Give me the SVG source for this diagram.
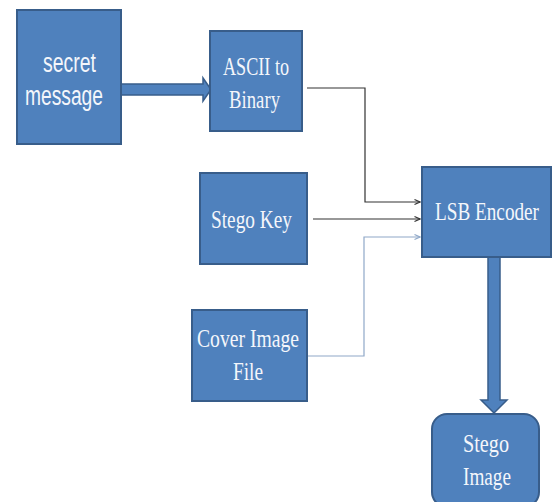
<svg xmlns="http://www.w3.org/2000/svg" width="553" height="502" viewBox="0 0 553 502">
<defs>
<style>
.box{fill:#4F81BD;stroke:#385D8A;stroke-width:2}
.t{fill:#F4F6FB;font-family:"Liberation Serif","Times New Roman",serif;font-size:25px;text-anchor:middle}
.s{fill:#F4F6FB;font-family:"Liberation Sans",Arial,sans-serif;font-size:27px;text-anchor:middle}
.ln{fill:none;stroke:#333333;stroke-width:1.2}
.lb{fill:none;stroke:#8FA8C8;stroke-width:1.2}
.blk{fill:#4F81BD;stroke:#385D8A;stroke-width:1.5}
</style>
<marker id="ah" markerWidth="8" markerHeight="8" refX="7" refY="4" orient="auto" markerUnits="userSpaceOnUse">
<path d="M1.5,1.5 L7,4 L1.5,6.5" fill="none" stroke="#333333" stroke-width="1.2"/>
</marker>
<marker id="ahb" markerWidth="8" markerHeight="8" refX="7" refY="4" orient="auto" markerUnits="userSpaceOnUse">
<path d="M1.5,1.5 L7,4 L1.5,6.5" fill="none" stroke="#8FA8C8" stroke-width="1.2"/>
</marker>
</defs>
<rect width="553" height="502" fill="#FFFFFF"/>
<g id="connectors">
<polygon class="blk" points="121,84 203,84 203,78 211,89.5 203,101 203,95 121,95"/>
<polyline class="ln" points="307,88 365,88 365,202 420,202" marker-end="url(#ah)"/>
<line class="ln" x1="313" y1="219" x2="420" y2="219" marker-end="url(#ah)"/>
<polyline class="lb" points="307,356 364,356 364,237 420,237" marker-end="url(#ahb)"/>
<polygon class="blk" points="488,257 500,257 500,400 507,400 494,413 481,400 488,400"/>
</g>
<g id="secret-message">
<rect class="box" x="17" y="10" width="104" height="134"/>
<text class="s" x="69.5" y="72" textLength="53" lengthAdjust="spacingAndGlyphs">secret</text>
<text class="s" x="64" y="105" textLength="78" lengthAdjust="spacingAndGlyphs">message</text>
</g>
<g id="ascii-to-binary">
<rect class="box" x="210" y="31" width="92" height="100"/>
<text class="t" x="256" y="75" textLength="66" lengthAdjust="spacingAndGlyphs">ASCII to</text>
<text class="t" x="254.5" y="108" textLength="51" lengthAdjust="spacingAndGlyphs">Binary</text>
</g>
<g id="stego-key">
<rect class="box" x="200" y="173" width="107" height="91"/>
<text class="t" x="251.5" y="228" textLength="81" lengthAdjust="spacingAndGlyphs">Stego Key</text>
</g>
<g id="lsb-encoder">
<rect class="box" x="422" y="167" width="129" height="90"/>
<text class="t" x="487" y="220" font-size="21" textLength="104" lengthAdjust="spacingAndGlyphs">LSB Encoder</text>
</g>
<g id="cover-image-file">
<rect class="box" x="192" y="310" width="115" height="91"/>
<text class="t" x="248" y="347" textLength="102" lengthAdjust="spacingAndGlyphs">Cover Image</text>
<text class="t" x="248" y="380" textLength="30" lengthAdjust="spacingAndGlyphs">File</text>
</g>
<g id="stego-image">
<rect class="box" x="432" y="414" width="107" height="93" rx="15" ry="15"/>
<text class="t" x="486" y="452" textLength="46" lengthAdjust="spacingAndGlyphs">Stego</text>
<text class="t" x="487" y="485" textLength="48" lengthAdjust="spacingAndGlyphs">Image</text>
</g>
</svg>
